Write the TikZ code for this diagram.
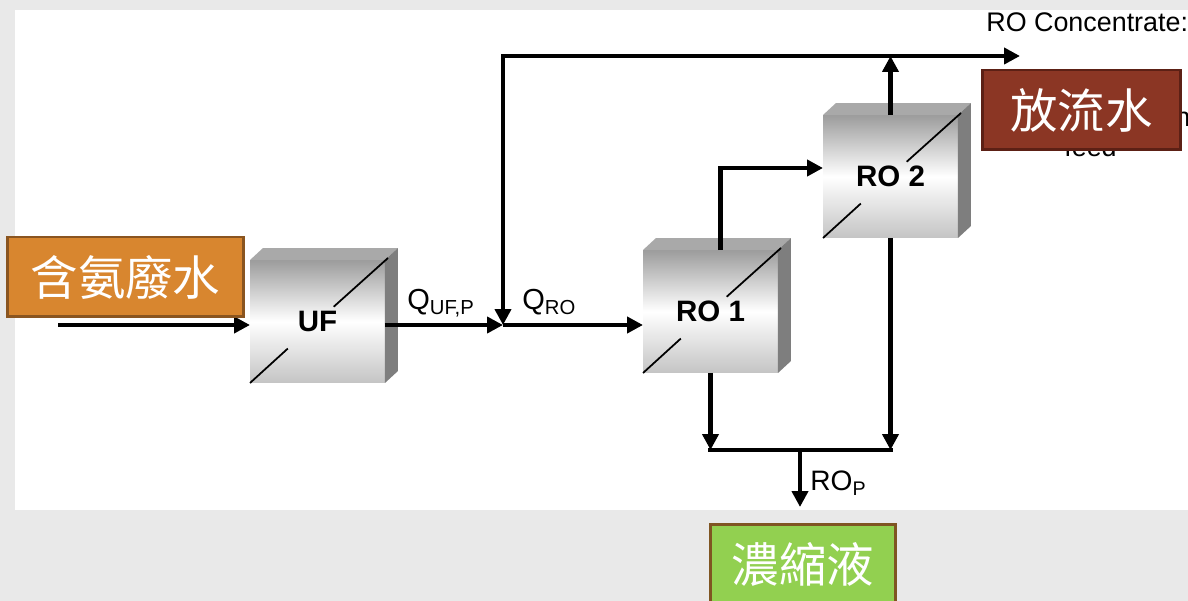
\documentclass[tikz,border=0pt]{standalone}
\usepackage{fontspec}
\setmainfont{Liberation Sans}
\newfontfamily\cjk{Noto Sans CJK TC}
\usepackage{tikz}
\usetikzlibrary{arrows.meta,calc}
\definecolor{PageGray}{HTML}{E9E9E9}
\definecolor{FaceTop}{HTML}{9C9C9C}
\definecolor{FaceBottom}{HTML}{C4C4C4}
\definecolor{LidGray}{HTML}{A9A9A9}
\definecolor{SideGray}{HTML}{7E7E7E}
\definecolor{FeedOrange}{HTML}{D8862F}
\definecolor{FeedEdge}{HTML}{8A5520}
\definecolor{OutRed}{HTML}{8B3624}
\definecolor{OutEdge}{HTML}{5C2015}
\definecolor{BrineGreen}{HTML}{92D050}
\definecolor{BrineEdge}{HTML}{7F5522}

\begin{document}
\begin{tikzpicture}[x=0.02cm,y=-0.02cm,
  module/.style={minimum width=2.7cm,minimum height=2.46cm,inner sep=0pt,outer sep=0pt,
    top color=FaceTop,bottom color=FaceBottom,middle color=white,
    font=\bfseries\fontsize{16.8}{18}\selectfont},
  tag/.style={draw,line width=1.7pt,inner sep=0pt,minimum height=1.6cm,text=white,
    font=\cjk\fontsize{27}{30}\selectfont},
  flow/.style={-{Triangle[length=9pt,width=9pt]},line width=2.3pt},
  pipe/.style={line width=2.3pt,line cap=rect},
  lbl/.style={inner sep=0pt,anchor=base west,font=\fontsize{15.3}{17}\selectfont}
]
  % page and panel
  \fill[PageGray] (0,0) rectangle (1188,601);
  \fill[white] (15,10) rectangle (1188,510);
  \useasboundingbox (0,0) rectangle (1188,601);

  % membrane modules
  \node[module] (uf) at (317.5,321.5) {UF};
  \node[module] (ro1) at (710.5,311.5) {RO 1};
  \node[module] (ro2) at (890.5,176.5) {RO 2};
  \foreach \m in {uf,ro1,ro2}{
    \fill[LidGray] (\m.north west) -- ([shift={(13,-12)}]\m.north west)
      -- ([shift={(13,-12)}]\m.north east) -- (\m.north east) -- cycle;
    \fill[SideGray] (\m.north east) -- ([shift={(13,-12)}]\m.north east)
      -- ([shift={(13,-12)}]\m.south east) -- (\m.south east) -- cycle;
    \draw[line width=1pt] (\m.south west) -- ($(\m.south west)!0.28!(\m.north east)$);
    \draw[line width=1pt] ($(\m.south west)!0.62!(\m.north east)$) -- ([shift={(3,-2)}]\m.north east);
  }

  % flow lines
  \coordinate (inlet) at (58,325);
  \coordinate (jn) at (503,325);
  \coordinate (conc) at (1020,56);
  \coordinate (sump) at (800,450);
  \coordinate (rop) at (800,507);
  \draw[flow] (inlet) -- (inlet -| uf.west);
  \draw[flow] (uf.east |- jn) -- (jn);
  \draw[flow] (jn) -- (jn -| ro1.west);
  \draw[{Triangle[length=9pt,width=9pt]}-{Triangle[length=9pt,width=9pt]},line width=2.3pt] (conc) -| (jn);
  \draw[flow] (ro2.north) -- (ro2.north |- conc);
  \draw[flow] ([xshift=0.2cm]ro1.north) |- ([yshift=0.17cm]ro2.west);
  \draw[flow] (ro1.south) -- (ro1.south |- sump);
  \draw[flow] (ro2.south) -- (ro2.south |- sump);
  \draw[pipe] (ro1.south |- sump) -- (ro2.south |- sump);
  \draw[flow] (sump) -- (rop);

  % stream labels
  \node[lbl,font=\fontsize{16.5}{18}\selectfont] (qufp) at (407,310) {Q\textsubscript{UF,P}};
  \node[lbl,font=\fontsize{16.5}{18}\selectfont] (qro) at (522,310) {Q\textsubscript{RO}};
  \node[lbl,font=\fontsize{16}{18}\selectfont] (ropl) at (810,491) {RO\textsubscript{P}};
  \node[lbl] (conclbl) at (986,32) {RO Concentrate:};
  \node[lbl] (nlbl) at (1175,127) {n};
  \node[lbl] (feedlbl) at (1064,157) {feed};

  % coloured tags
  \node[tag,fill=FeedOrange,draw=FeedEdge,minimum width=4.72cm] (ammonia) at (125.5,277) {含氨廢水};
  \node[tag,fill=OutRed,draw=OutEdge,minimum width=3.98cm] (effluent) at (1081.5,110) {放流水};
  \node[tag,fill=BrineGreen,draw=BrineEdge,minimum width=3.72cm] (brine) at (803,564) {濃縮液};
\end{tikzpicture}
\end{document}
